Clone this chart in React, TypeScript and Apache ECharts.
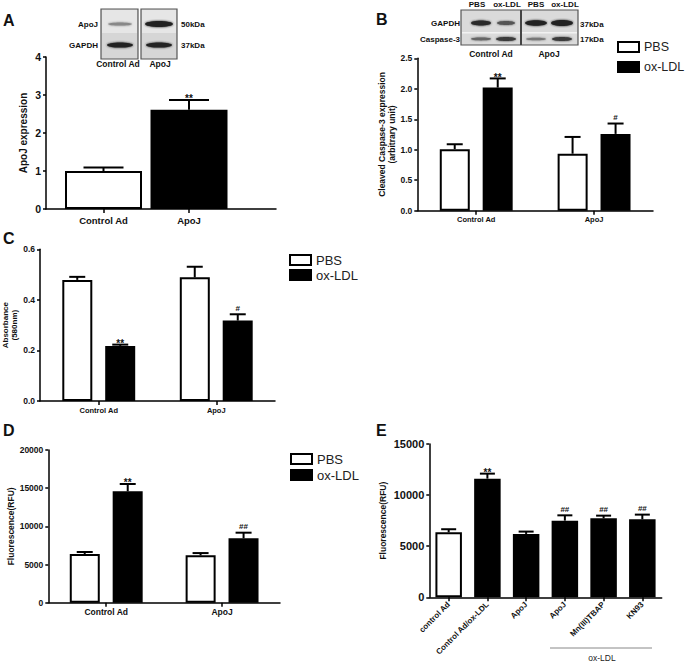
import React, { useEffect, useRef } from "react";
import * as echarts from "echarts";

// ---------- data ----------
const aCategories = ["Control Ad", "ApoJ"];
const aMeans = [1.0, 2.61];
const aErrs = [0.09, 0.26];
const aMarks = ["", "**"];

const groups = ["Control Ad", "ApoJ"];

const bPbsMeans = [1.01, 0.935];
const bPbsErrs = [0.08, 0.275];
const bOxMeans = [2.02, 1.26];
const bOxErrs = [0.15, 0.17];
const bOxMarks = ["**", "#"];

const cPbsMeans = [0.479, 0.489];
const cPbsErrs = [0.012, 0.042];
const cOxMeans = [0.218, 0.318];
const cOxErrs = [0.005, 0.025];
const cOxMarks = ["**", "#"];

const dPbsMeans = [6380, 6200];
const dPbsErrs = [260, 300];
const dOxMeans = [14590, 8430];
const dOxErrs = [960, 740];
const dOxMarks = ["**", "##"];

const eCategories = ["control Ad", "Control Ad/ox-LDL", "ApoJ", "ApoJ", "Mn(III)TBAP", "KN93"];
const eMeans = [6360, 11610, 6200, 7500, 7730, 7630];
const eErrs = [300, 490, 230, 520, 260, 460];
const eMarks = ["", "**", "", "##", "##", "##"];

const aTicks = { max: 4, interval: 1 };
const bTicks = { max: 2.5, interval: 0.5 };
const cTicks = { max: 0.6, interval: 0.2 };
const dTicks = { max: 20000, interval: 5000 };
const eTicks = { max: 15000, interval: 5000 };

const legendNames = ["PBS", "ox-LDL"];

// ---------- styles ----------
const FONT = '"Liberation Sans", Arial, Helvetica, sans-serif';
const WHITE = { color: "#fff", borderColor: "#000", borderWidth: 2 };
const BLACK = { color: "#000", borderColor: "#000", borderWidth: 2 };

function errSeries(axis: number, means: number[], errs: number[], marks: string[], offset: number, capHalf: number) {
  return {
    type: "custom",
    xAxisIndex: axis,
    yAxisIndex: axis,
    z: 5,
    silent: true,
    data: means.map((m, i) => [i, m, errs[i]]),
    encode: { x: 0, y: 1 },
    renderItem: (params: any, api: any) => {
      const i = api.value(0);
      const m = api.value(1);
      const e = api.value(2);
      const p0 = api.coord([i, m]);
      const p1 = api.coord([i, m + e]);
      const x = p0[0] + offset;
      const children: any[] = [
        { type: "line", shape: { x1: x, y1: p0[1], x2: x, y2: p1[1] }, style: { stroke: "#000", lineWidth: 2 } },
        { type: "line", shape: { x1: x - capHalf, y1: p1[1], x2: x + capHalf, y2: p1[1] }, style: { stroke: "#000", lineWidth: 2 } },
      ];
      const mk = marks[params.dataIndex];
      if (mk) {
        const ast = mk.indexOf("*") >= 0;
        children.push({
          type: "text",
          style: {
            text: mk,
            x: x,
            y: p1[1] - (ast ? 1 : 6),
            align: "center",
            textAlign: "center",
            verticalAlign: "middle",
            textVerticalAlign: "middle",
            font: `bold ${ast ? 10 : 8}px ${FONT}`,
            fill: "#111",
          },
        });
      }
      return { type: "group", children };
    },
  };
}

function yAxisDef(grid: number, ticks: any, fontSize: number, name: string, nameGap: number, nameSize: number, decimals: number | null, show = true) {
  return {
    type: "value",
    gridIndex: grid,
    min: 0,
    max: ticks.max,
    interval: ticks.interval,
    show,
    name,
    nameLocation: "middle",
    nameRotate: 90,
    nameGap,
    nameTextStyle: { fontFamily: FONT, fontWeight: "bold", fontSize: nameSize, color: "#111", lineHeight: nameSize + 1 },
    axisLine: { show: true, onZero: false, lineStyle: { color: "#000", width: 1.5 } },
    axisTick: { show: true, length: 3, lineStyle: { color: "#000", width: 1.5 } },
    axisLabel: {
      margin: 5,
      fontFamily: FONT,
      fontWeight: "bold",
      fontSize,
      color: "#111",
      formatter: (v: number) => (decimals === null ? String(v) : v.toFixed(decimals)),
    },
    splitLine: { show: false },
  };
}

function xCatDef(grid: number, data: string[], fontSize: number, showLine: boolean, margin: number, rotate = 0) {
  return {
    type: "category",
    gridIndex: grid,
    data,
    axisLine: { show: showLine, onZero: false, lineStyle: { color: "#000", width: 1.5 } },
    axisTick: { show: true, alignWithLabel: true, length: 4, lineStyle: { color: "#000", width: 1.5 } },
    axisLabel: { interval: 0, margin, rotate, fontFamily: FONT, fontWeight: "bold", fontSize, color: "#111" },
    splitLine: { show: false },
  };
}

function legendDef(left: number, top: number, gap: number, fontSize: number) {
  return {
    data: legendNames,
    left,
    top,
    padding: 0,
    orient: "vertical",
    icon: "rect",
    itemWidth: 21,
    itemHeight: 10,
    itemGap: gap,
    selectedMode: false,
    itemStyle: { borderWidth: 2 },
    textStyle: { fontFamily: FONT, fontSize, color: "#222" },
  };
}

function txt(text: string, x: number, y: number, size: number, align = "center", bold = true, color = "#111") {
  return {
    type: "text",
    silent: true,
    style: {
      text,
      x,
      y,
      align,
      textAlign: align,
      verticalAlign: "middle",
      textVerticalAlign: "middle",
      font: `${bold ? "bold " : ""}${size}px ${FONT}`,
      fill: color,
    },
  };
}

function rect(x: number, y: number, w: number, h: number, fill: string, stroke?: string, lw = 1) {
  return { type: "rect", silent: true, shape: { x, y, width: w, height: h }, style: { fill, stroke: stroke || "none", lineWidth: lw } };
}

function band(cx: number, cy: number, rx: number, ry: number, fill: string) {
  return { type: "ellipse", silent: true, shape: { cx, cy, rx, ry }, style: { fill, shadowBlur: 2, shadowColor: fill } };
}

function buildGraphics() {
  const g: any[] = [];
  // panel letters
  g.push(txt("A", 3, 20, 16, "left"));
  g.push(txt("B", 376, 19, 16, "left"));
  g.push(txt("C", 3, 238, 16, "left"));
  g.push(txt("D", 3, 430, 16, "left"));
  g.push(txt("E", 376, 430, 16, "left"));

  // blot A
  g.push(rect(101, 9, 37, 50, "#d6d6d6", "#555", 1.2));
  g.push(rect(141, 9, 36, 50, "#d6d6d6", "#555", 1.2));
  g.push(rect(102, 10, 35, 23, "#e6e6e6"));
  g.push(rect(142, 10, 34, 23, "#e6e6e6"));
  g.push(band(120, 24, 12, 1.6, "#888"));
  g.push(band(159, 24, 14, 3, "#222"));
  g.push(band(120, 45, 13, 2.6, "#222"));
  g.push(band(159, 45, 13, 2.6, "#222"));
  g.push(txt("ApoJ", 98, 24, 8, "right"));
  g.push(txt("GAPDH", 98, 45, 8, "right"));
  g.push(txt("50kDa", 181, 24, 8, "left"));
  g.push(txt("37kDa", 181, 45, 8, "left"));
  g.push(txt("Control Ad", 118, 64, 8.5));
  g.push(txt("ApoJ", 160, 64, 8.5));

  // blot B
  g.push(rect(461, 10, 117, 35, "#dadada", "#555", 1.2));
  g.push(rect(462, 32, 115, 1.5, "#f2f2f2"));
  g.push({ type: "line", silent: true, shape: { x1: 521, y1: 10, x2: 521, y2: 45 }, style: { stroke: "#444", lineWidth: 2 } });
  g.push(band(481, 23, 10, 2.5, "#2a2a2a"));
  g.push(band(506, 23, 9, 2, "#555"));
  g.push(band(536, 23, 11, 2.8, "#222"));
  g.push(band(562, 23, 11, 3, "#222"));
  g.push(band(481, 39, 10, 1.4, "#666"));
  g.push(band(506, 39, 10, 2, "#3a3a3a"));
  g.push(band(536, 39, 10, 1.3, "#777"));
  g.push(band(562, 39, 10, 2, "#3a3a3a"));
  g.push(txt("PBS", 477, 4, 8));
  g.push(txt("ox-LDL", 507, 4, 8));
  g.push(txt("PBS", 536, 4, 8));
  g.push(txt("ox-LDL", 565, 4, 8));
  g.push(txt("GAPDH", 460, 23, 8, "right"));
  g.push(txt("Caspase-3", 460, 39, 8, "right"));
  g.push(txt("37kDa", 580, 24, 8, "left"));
  g.push(txt("17kDa", 580, 39, 8, "left"));
  g.push(txt("Control Ad", 491, 54, 8.5));
  g.push(txt("ApoJ", 549, 54, 8.5));

  // E bracket
  g.push({ type: "line", silent: true, shape: { x1: 550, y1: 648, x2: 652, y2: 648 }, style: { stroke: "#888", lineWidth: 1 } });
  g.push(txt("ox-LDL", 602, 658, 8.5, "center", false, "#222"));
  return g;
}

function buildOption() {
  const grids = [
    { left: 46, top: 57, width: 230, height: 152 }, // A frame
    { left: 60.75, top: 57, width: 171, height: 152 }, // A bars
    { left: 417.3, top: 58.3, width: 235.7, height: 152.4 }, // B
    { left: 39.3, top: 249.3, width: 235.7, height: 151.7 }, // C
    { left: 48.3, top: 450, width: 231.7, height: 152.7 }, // D
    { left: 429.3, top: 444, width: 232.4, height: 153.3 }, // E
  ].map((g) => ({ ...g, containLabel: false }));

  const xAxis: any[] = [
    {
      type: "value",
      gridIndex: 0,
      min: 0,
      max: 1,
      axisLine: { show: true, onZero: false, lineStyle: { color: "#000", width: 1.5 } },
      axisTick: { show: false },
      axisLabel: { show: false },
      splitLine: { show: false },
    },
    xCatDef(1, aCategories, 9.5, false, 6),
    xCatDef(2, groups, 7.5, true, 5),
    xCatDef(3, groups, 7.5, true, 5),
    xCatDef(4, groups, 8.5, true, 5),
    xCatDef(5, eCategories, 8, true, 6, 45),
  ];

  const yAxis: any[] = [
    yAxisDef(0, aTicks, 10.5, "ApoJ expression", 17, 10, null),
    yAxisDef(1, aTicks, 10, "", 10, 10, null, false),
    yAxisDef(2, bTicks, 8.5, "Cleaved Caspase-3 expression\n(arbitrary unit)", 19, 8.5, 1),
    yAxisDef(3, cTicks, 8.5, "Absorbance\n(580nm)", 21, 8, 1),
    yAxisDef(4, dTicks, 8.5, "Fluorescence(RFU)", 33, 8.5, null),
    yAxisDef(5, eTicks, 11, "Fluorescence(RFU)", 42, 8.5, null),
  ];

  const series: any[] = [];
  // A
  series.push({
    type: "bar",
    xAxisIndex: 1,
    yAxisIndex: 1,
    barWidth: 77,
    data: aMeans.map((v, i) => ({ value: v, itemStyle: i === 0 ? WHITE : BLACK })),
  });
  series.push(errSeries(1, aMeans, aErrs, aMarks, 0, 20));

  // B, C, D grouped
  const grouped = [
    { axis: 2, pbs: bPbsMeans, pbsE: bPbsErrs, ox: bOxMeans, oxE: bOxErrs, marks: bOxMarks },
    { axis: 3, pbs: cPbsMeans, pbsE: cPbsErrs, ox: cOxMeans, oxE: cOxErrs, marks: cOxMarks },
    { axis: 4, pbs: dPbsMeans, pbsE: dPbsErrs, ox: dOxMeans, oxE: dOxErrs, marks: dOxMarks },
  ];
  grouped.forEach((g) => {
    series.push({ type: "bar", name: legendNames[0], xAxisIndex: g.axis, yAxisIndex: g.axis, barWidth: 30, barGap: "43%", itemStyle: WHITE, data: g.pbs });
    series.push({ type: "bar", name: legendNames[1], xAxisIndex: g.axis, yAxisIndex: g.axis, barWidth: 30, barGap: "43%", itemStyle: BLACK, data: g.ox });
    series.push(errSeries(g.axis, g.pbs, g.pbsE, ["", ""], -21.5, 8));
    series.push(errSeries(g.axis, g.ox, g.oxE, g.marks, 21.5, 8));
  });

  // E
  series.push({
    type: "bar",
    xAxisIndex: 5,
    yAxisIndex: 5,
    barWidth: 26.5,
    data: eMeans.map((v, i) => ({ value: v, itemStyle: i === 0 ? WHITE : BLACK })),
  });
  series.push(errSeries(5, eMeans, eErrs, eMarks, 0, 7.5));

  return {
    animation: false,
    backgroundColor: "#fff",
    textStyle: { fontFamily: FONT },
    grid: grids,
    xAxis,
    yAxis,
    legend: [legendDef(617, 40.5, 7, 12.5), legendDef(289, 253.5, 2, 13), legendDef(290, 452.5, 3, 13)],
    series,
    graphic: buildGraphics(),
  };
}

export default function App() {
  const ref = useRef<HTMLDivElement>(null);
  useEffect(() => {
    if (!ref.current) return;
    const chart = echarts.init(ref.current, null, { renderer: "svg" });
    chart.setOption(buildOption() as any);
    return () => chart.dispose();
  }, []);
  return <div ref={ref} style={{ position: "absolute", left: 0, top: 0, width: 685, height: 664 }} />;
}
